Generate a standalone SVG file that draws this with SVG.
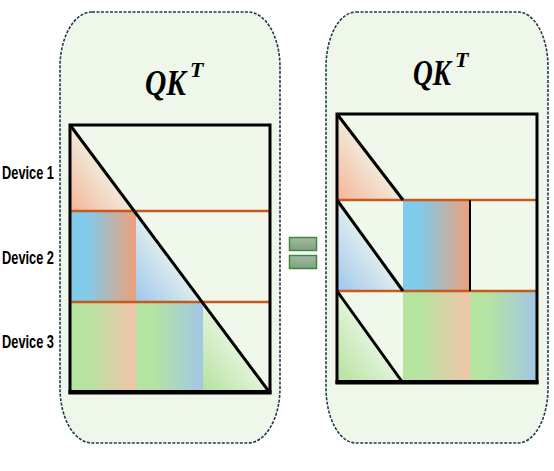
<svg xmlns="http://www.w3.org/2000/svg" width="554" height="471" viewBox="0 0 554 471">
<style>
.panel{fill:#eef7ea;stroke:#1f3a4d;stroke-width:1.6;stroke-dasharray:3 1.5}
.mat{fill:#f0f8ec}
.border{fill:none;stroke:#000;stroke-width:3}
.diag{stroke:#000;stroke-width:3;fill:none}
.sep{stroke:#c55a1c;stroke-width:2.5}
.lbl{font-family:"Liberation Sans",Arial,sans-serif;font-weight:bold;font-size:19px;fill:#000}
.ttl{font-family:"Liberation Serif","DejaVu Serif",serif;font-style:italic;font-weight:bold;fill:#000}
.eq{fill:url(#gEq);stroke:#3d8b3d;stroke-width:1.5}
</style>
<defs>
<linearGradient id="gOrT" x1="0" y1="1" x2="0.65" y2="0.35"><stop offset="0" stop-color="#f5b497"/><stop offset="1" stop-color="#f0f8ec"/></linearGradient>
<linearGradient id="gBlT" x1="0" y1="1" x2="0.65" y2="0.35"><stop offset="0" stop-color="#9ec6ee"/><stop offset="1" stop-color="#f0f8ec"/></linearGradient>
<linearGradient id="gGrT" x1="0" y1="1" x2="0.65" y2="0.35"><stop offset="0" stop-color="#b2e29c"/><stop offset="1" stop-color="#f0f8ec"/></linearGradient>
<linearGradient id="gBO" x1="0" y1="0" x2="1" y2="0"><stop offset="0.25" stop-color="#80caeb"/><stop offset="1" stop-color="#eda07a"/></linearGradient>
<linearGradient id="gGO" x1="0" y1="0" x2="1" y2="0"><stop offset="0.25" stop-color="#b4e4a0"/><stop offset="1" stop-color="#f1c3aa"/></linearGradient>
<linearGradient id="gGB" x1="0" y1="0" x2="1" y2="0"><stop offset="0.25" stop-color="#b4e4a0"/><stop offset="1" stop-color="#a2c6e6"/></linearGradient>
<linearGradient id="gEq" x1="0" y1="0" x2="0" y2="1"><stop offset="0" stop-color="#a3b9a3"/><stop offset="1" stop-color="#7fa27f"/></linearGradient>
</defs>

<g id="left-panel">
<rect class="panel" x="60" y="12" width="220" height="431" rx="32" ry="55"/>
<text class="ttl" x="145" y="95" font-size="36"><tspan textLength="41" lengthAdjust="spacingAndGlyphs">QK</tspan><tspan x="190" y="77" font-size="22">T</tspan></text>
<rect class="mat" x="70" y="125" width="200" height="268"/>
<polygon points="70,125 134,211 70,211" fill="url(#gOrT)"/>
<rect x="70" y="211" width="66" height="91" fill="url(#gBO)"/>
<polygon points="136,211 136,302 202,302" fill="url(#gBlT)"/>
<rect x="70" y="302" width="66" height="91" fill="url(#gGO)"/>
<rect x="136" y="302" width="67" height="91" fill="url(#gGB)"/>
<polygon points="203,302 203,393 270,393" fill="url(#gGrT)"/>
<line class="sep" x1="70" y1="211" x2="270" y2="211"/>
<line class="sep" x1="70" y1="302" x2="270" y2="302"/>
<line class="diag" x1="70" y1="125" x2="270" y2="393"/>
<rect class="border" x="70" y="125" width="200" height="268"/>
<line x1="68.5" y1="392" x2="271.5" y2="392" stroke="#000" stroke-width="4"/>
</g>

<g id="device-labels">
<text class="lbl" x="2" y="179" textLength="52" lengthAdjust="spacingAndGlyphs">Device 1</text>
<text class="lbl" x="2" y="264" textLength="52" lengthAdjust="spacingAndGlyphs">Device 2</text>
<text class="lbl" x="2" y="348" textLength="52" lengthAdjust="spacingAndGlyphs">Device 3</text>
</g>

<g id="equals">
<rect class="eq" x="289.5" y="237.5" width="27" height="13"/>
<rect class="eq" x="289.5" y="255.5" width="27" height="13"/>
</g>

<g id="right-panel">
<rect class="panel" x="326" y="12" width="222" height="431" rx="30" ry="55"/>
<text class="ttl" x="413" y="85" font-size="36"><tspan textLength="38" lengthAdjust="spacingAndGlyphs">QK</tspan><tspan x="455" y="67" font-size="22">T</tspan></text>
<rect class="mat" x="337" y="114" width="200" height="269"/>
<polygon points="337,114 403,200 337,200" fill="url(#gOrT)"/>
<polygon points="337,200 403,291 337,291" fill="url(#gBlT)"/>
<rect x="403" y="200" width="67" height="91" fill="url(#gBO)"/>
<polygon points="337,291 403,383 337,383" fill="url(#gGrT)"/>
<rect x="403" y="291" width="67" height="92" fill="url(#gGO)"/>
<rect x="470" y="291" width="67" height="92" fill="url(#gGB)"/>
<line class="sep" x1="337" y1="200" x2="537" y2="200"/>
<line class="sep" x1="337" y1="291" x2="537" y2="291"/>
<line class="diag" x1="337" y1="114" x2="403" y2="200"/>
<line class="diag" x1="337" y1="200" x2="403" y2="291"/>
<line class="diag" x1="337" y1="291" x2="403" y2="383"/>
<line x1="470" y1="200" x2="470" y2="291" stroke="#000" stroke-width="2"/>
<rect class="border" x="337" y="114" width="200" height="269"/>
<line x1="335.5" y1="382" x2="538.5" y2="382" stroke="#000" stroke-width="4"/>
</g>
</svg>
